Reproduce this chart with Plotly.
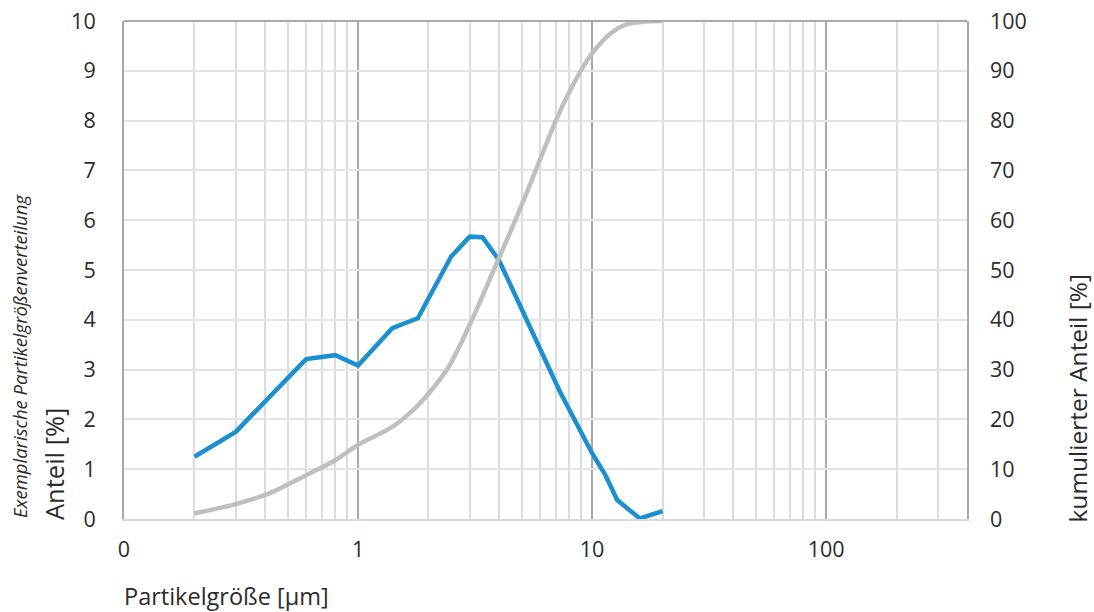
import plotly.graph_objects as go
import math

# Particle size distribution (density, left axis)
size_um = [0.2, 0.3, 0.6, 0.8, 1.0, 1.4, 1.8, 2.5, 3.0, 3.4, 4.0, 5.8, 7.3, 10.0, 11.4, 12.8, 16.0, 20.0]
share_pct = [1.25, 1.75, 3.21, 3.29, 3.08, 3.83, 4.03, 5.27, 5.67, 5.66, 5.20, 3.53, 2.55, 1.32, 0.88, 0.38, 0.01, 0.16]

# Cumulative distribution (right axis)
cum_size_um = [0.2, 0.3, 0.42, 0.6, 0.8, 1.0, 1.4, 1.8, 2.4, 3.0, 3.8, 4.7, 5.8, 7.0, 8.0, 9.0, 10.0, 12.0, 14.0, 17.0, 20.0]
cum_pct = [1.1, 3.0, 5.2, 8.8, 11.8, 14.9, 18.5, 22.8, 30.0, 39.0, 50.0, 60.0, 70.5, 80.0, 85.8, 90.2, 93.5, 97.5, 99.3, 99.9, 100.0]

x_tickvals = [0.1, 1, 10, 100]
x_ticktext = ["0", "1", "10", "100"]
x_minor = [0.2, 0.3, 0.4, 0.5, 0.6, 0.7, 0.8, 0.9,
           2, 3, 4, 5, 6, 7, 8, 9,
           20, 30, 40, 50, 60, 70, 80, 90,
           200, 300]

FONT = "Open Sans"
TXT = "#2b2b2b"
TICK = 21.5

# plot-area geometry in pixels
L, T, W, H = 124, 21, 843, 498


def px(xp):
    return (xp - L) / W


def py(yp):
    return (T + H - yp) / H


fig = go.Figure()
fig.add_trace(go.Scatter(
    x=size_um, y=share_pct, mode="lines",
    line=dict(color="#1b90cf", width=4.5), name="Anteil", yaxis="y"))
fig.add_trace(go.Scatter(
    x=cum_size_um, y=cum_pct, mode="lines",
    line=dict(color="#bfbfbf", width=4.5, shape="spline", smoothing=0.8),
    name="kumulierter Anteil", yaxis="y2"))

fig.update_layout(
    width=1094, height=612,
    margin=dict(l=L, r=1094 - L - W, t=T, b=612 - T - H),
    paper_bgcolor="white", plot_bgcolor="white",
    showlegend=False,
    font=dict(family=FONT, color=TXT, size=20),
    xaxis=dict(
        type="log", range=[-1, math.log10(400)],
        tickvals=x_tickvals, ticktext=x_ticktext,
        showgrid=True, gridcolor="#a9a9a9", gridwidth=1.5,
        minor=dict(tickvals=x_minor, showgrid=True, gridcolor="#dcdcdc", gridwidth=2),
        showline=True, linecolor="#d9d9d9", linewidth=2,
        ticks="", ticklabelstandoff=10, automargin=False,
        tickfont=dict(size=TICK, color=TXT, family=FONT),
        zeroline=False,
    ),
    yaxis=dict(
        range=[0, 10], dtick=1,
        showgrid=True, gridcolor="#e3e3e3", gridwidth=2,
        showline=True, linecolor="#a9a9a9", linewidth=2, mirror=True,
        ticks="", ticklabelstandoff=22, automargin=False,
        tickfont=dict(size=TICK, color=TXT, family=FONT),
        zeroline=False,
    ),
    yaxis2=dict(
        range=[0, 100], dtick=10, overlaying="y", side="right",
        showgrid=False, showline=False, ticks="", ticklabelstandoff=22,
        automargin=False,
        tickfont=dict(size=TICK, color=TXT, family=FONT),
        zeroline=False,
    ),
    shapes=[dict(type="line", xref="paper", yref="paper", x0=0, x1=1, y0=1, y1=1,
                 line=dict(color="#a9a9a9", width=2))],
    annotations=[
        dict(text="Partikelgröße [µm]", xref="paper", yref="paper",
             x=px(122), y=py(596), xanchor="left", yanchor="middle", showarrow=False,
             font=dict(size=23.5, color=TXT, family=FONT)),
        dict(text="Anteil [%]", xref="paper", yref="paper",
             x=px(54), y=py(522), xanchor="center", yanchor="bottom", textangle=-90,
             showarrow=False, font=dict(size=25.5, color=TXT, family=FONT)),
        dict(text="<i>Exemplarische Partikelgrößenverteilung</i>", xref="paper", yref="paper",
             x=px(19), y=py(520), xanchor="center", yanchor="bottom", textangle=-90,
             showarrow=False, font=dict(size=18.5, color=TXT, family=FONT)),
        dict(text="kumulierter Anteil [%]", xref="paper", yref="paper",
             x=px(1077), y=py(525), xanchor="center", yanchor="bottom", textangle=-90,
             showarrow=False, font=dict(size=24.5, color=TXT, family=FONT)),
    ],
)

fig.write_html("out.html", config={"displayModeBar": False},
               post_script="document.body.style.margin='0';")
